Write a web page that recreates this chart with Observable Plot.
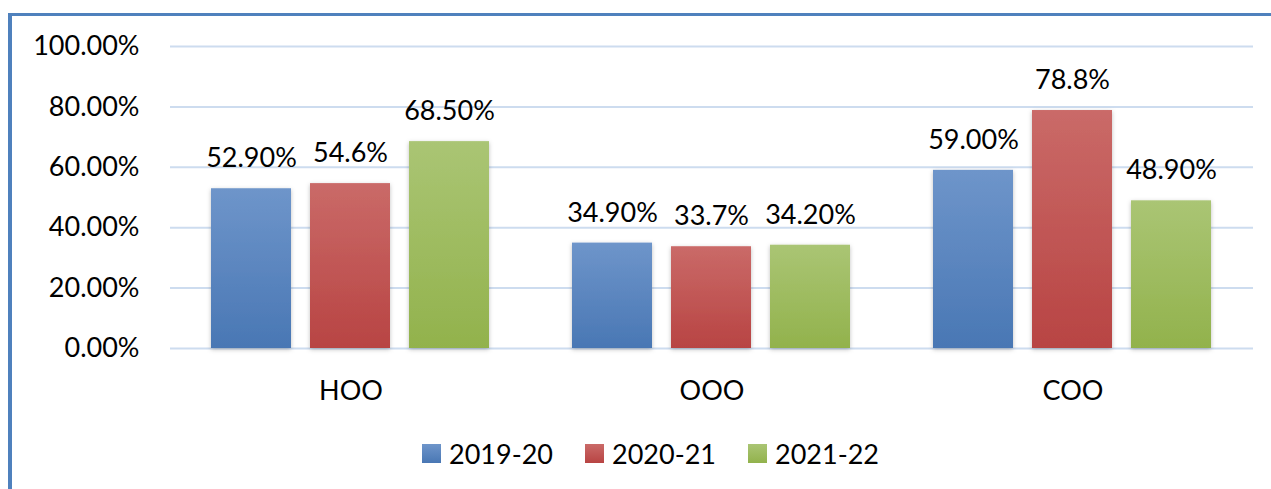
<!DOCTYPE html>
<html>
<head>
<meta charset="utf-8">
<script src="https://cdn.jsdelivr.net/npm/d3@7"></script>
<script src="https://cdn.jsdelivr.net/npm/@observablehq/plot@0.6"></script>
<style>
  html, body { margin: 0; padding: 0; background: #fff; }
  #wrap { position: relative; width: 1271px; height: 489px; overflow: hidden; font-family: Lato, "Open Sans", sans-serif; }
  #frame { position: absolute; left: 8px; top: 13px; width: 1400px; height: 600px; border-top: 3px solid #4f81bd; border-left: 4px solid #4f81bd; pointer-events: none; z-index: 2; }
  #chart { position: absolute; left: 0; top: 0; }
  #legend { position: absolute; top: 437px; left: 422px; display: flex; align-items: center; font-size: 27px; color: #000; }
  .item { display: flex; align-items: center; margin-right: 32px; }
  .sw { width: 19px; height: 19px; margin-right: 8px; }
</style>
</head>
<body>
<div id="wrap">
  <div id="frame"></div>
  <div id="chart"></div>
  <div id="legend"></div>
</div>
<script>
const categories = ["HOO", "OOO", "COO"];
const series = ["2019-20", "2020-21", "2021-22"];
const values2019 = [52.9, 34.9, 59.0];
const values2020 = [54.6, 33.7, 78.8];
const values2021 = [68.5, 34.2, 48.9];
const labels2019 = ["52.90%", "34.90%", "59.00%"];
const labels2020 = ["54.6%", "33.7%", "78.8%"];
const labels2021 = ["68.50%", "34.20%", "48.90%"];
const yTicks = [0, 20, 40, 60, 80, 100];
const gradTop = ["#6e95ca", "#ca6a68", "#aac574"];
const gradBottom = ["#4977b4", "#b84443", "#92b24c"];

const allValues = [values2019, values2020, values2021];
const allLabels = [labels2019, labels2020, labels2021];
const data = [];
categories.forEach((c, i) => {
  series.forEach((s, j) => {
    data.push({category: c, series: s, value: allValues[j][i], label: allLabels[j][i]});
  });
});

const chart = Plot.plot({
  width: 1271,
  height: 420,
  marginTop: 46,
  marginBottom: 72,
  marginLeft: 169,
  marginRight: 18,
  style: {background: "transparent", fontFamily: "Lato, 'Open Sans', sans-serif", fontSize: "27px", color: "#000"},
  fx: {domain: categories, paddingInner: 0, paddingOuter: 0, label: null, axis: null},
  x: {domain: series, paddingInner: 0.19, paddingOuter: 0.4, axis: null},
  y: {domain: [0, 100], label: null},
  color: {domain: series, range: series.map((s, i) => `url(#grad${i})`)},
  marks: [
    Plot.gridY(yTicks, {stroke: "#cddcef", strokeOpacity: 1, strokeWidth: 2}),
    Plot.axisY({ticks: yTicks, tickSize: 0, tickPadding: 31, tickFormat: d => d.toFixed(2) + "%", fontSize: 27, label: null}),
    Plot.axisFx({anchor: "bottom", tickSize: 0, tickPadding: 32, fontSize: 27, label: null}),
    Plot.barY(data, {fx: "category", x: "series", y: "value", fill: "series"}),
    Plot.text(data, {fx: "category", x: "series", y: "value", text: "label", dy: -30, fontSize: 27, fill: "#000"})
  ]
});

const ns = "http://www.w3.org/2000/svg";
const defs = document.createElementNS(ns, "defs");
series.forEach((s, i) => {
  const g = document.createElementNS(ns, "linearGradient");
  g.setAttribute("id", `grad${i}`);
  g.setAttribute("x1", "0"); g.setAttribute("y1", "0");
  g.setAttribute("x2", "0"); g.setAttribute("y2", "1");
  const s1 = document.createElementNS(ns, "stop");
  s1.setAttribute("offset", "0"); s1.setAttribute("stop-color", gradTop[i]);
  const s2 = document.createElementNS(ns, "stop");
  s2.setAttribute("offset", "1"); s2.setAttribute("stop-color", gradBottom[i]);
  g.appendChild(s1); g.appendChild(s2);
  defs.appendChild(g);
});
const f = document.createElementNS(ns, "filter");
f.setAttribute("id", "shadow");
f.setAttribute("x", "-20%"); f.setAttribute("y", "-5%");
f.setAttribute("width", "140%"); f.setAttribute("height", "115%");
const ds = document.createElementNS(ns, "feDropShadow");
ds.setAttribute("dx", "0"); ds.setAttribute("dy", "1.5");
ds.setAttribute("stdDeviation", "2");
ds.setAttribute("flood-color", "#000"); ds.setAttribute("flood-opacity", "0.25");
f.appendChild(ds);
defs.appendChild(f);
chart.insertBefore(defs, chart.firstChild);
chart.querySelectorAll('g[aria-label="bar"] rect').forEach(r => r.setAttribute("filter", "url(#shadow)"));

document.getElementById("chart").appendChild(chart);

const legend = document.getElementById("legend");
series.forEach((s, i) => {
  const item = document.createElement("div");
  item.className = "item";
  const sw = document.createElement("div");
  sw.className = "sw";
  sw.style.background = `linear-gradient(${gradTop[i]}, ${gradBottom[i]})`;
  const t = document.createElement("span");
  t.textContent = s;
  item.appendChild(sw); item.appendChild(t);
  legend.appendChild(item);
});
</script>
</body>
</html>
